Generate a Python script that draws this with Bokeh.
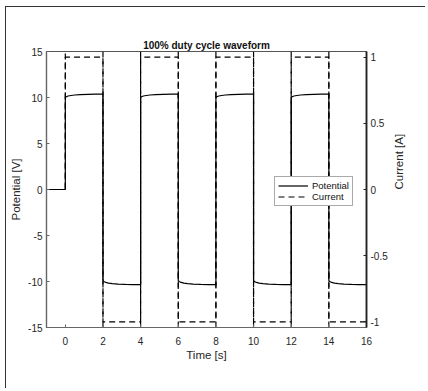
import math
from bokeh.plotting import figure
from bokeh.models import Range1d, LinearAxis, FixedTicker, Legend, LegendItem
from bokeh.embed import file_html
from bokeh.resources import INLINE

# ---- data ----
pot_time = [-1, 0,
            0, 0.05, 0.15, 0.3, 0.5, 0.8, 1.2, 1.6, 2.0,
            2.0, 2.05, 2.15, 2.3, 2.5, 2.8, 3.2, 3.6, 4.0,
            4.0, 4.05, 4.15, 4.3, 4.5, 4.8, 5.2, 5.6, 6.0,
            6.0, 6.05, 6.15, 6.3, 6.5, 6.8, 7.2, 7.6, 8.0,
            8.0, 8.05, 8.15, 8.3, 8.5, 8.8, 9.2, 9.6, 10.0,
            10.0, 10.05, 10.15, 10.3, 10.5, 10.8, 11.2, 11.6, 12.0,
            12.0, 12.05, 12.15, 12.3, 12.5, 12.8, 13.2, 13.6, 14.0,
            14.0, 14.05, 14.15, 14.3, 14.5, 14.8, 15.2, 15.6, 16.0]
pot_value = [0, 0,
             10.0, 10.08, 10.16, 10.22, 10.27, 10.31, 10.34, 10.36, 10.38,
             -9.9, -10.0, -10.1, -10.17, -10.23, -10.28, -10.31, -10.33, -10.35,
             10.0, 10.08, 10.16, 10.22, 10.27, 10.31, 10.34, 10.36, 10.38,
             -9.9, -10.0, -10.1, -10.17, -10.23, -10.28, -10.31, -10.33, -10.35,
             10.0, 10.08, 10.16, 10.22, 10.27, 10.31, 10.34, 10.36, 10.38,
             -9.9, -10.0, -10.1, -10.17, -10.23, -10.28, -10.31, -10.33, -10.35,
             10.0, 10.08, 10.16, 10.22, 10.27, 10.31, 10.34, 10.36, 10.38,
             -9.9, -10.0, -10.1, -10.17, -10.23, -10.28, -10.31, -10.33, -10.35]

cur_time = [-1, 0, 0, 2, 2, 4, 4, 6, 6, 8, 8, 10, 10, 12, 12, 14, 14, 16]
cur_value = [0, 0, 1, 1, -1, -1, 1, 1, -1, -1, 1, 1, -1, -1, 1, 1, -1, -1]
switch_times = [0, 2, 4, 6, 8, 10, 12, 14]
switch_low = [0, -15, -15, -15, -15, -15, -15, -15]
switch_high = [15, 15, 15, 15, 15, 15, 15, 15]

x_lim = (-1, 16)
left_lim = (-15, 15)
right_lim = (-1.042, 1.042)
x_ticks = [0, 2, 4, 6, 8, 10, 12, 14, 16]
left_ticks = [-15, -10, -5, 0, 5, 10, 15]
right_ticks = [-1, -0.5, 0, 0.5, 1]
left_tick_labels = ["-15", "-10", "-5", "0", "5", "10", "15"]
right_tick_labels = ["-1", "-0.5", "0", "0.5", "1"]

FONT = "Liberation Sans"
TXT = "#262626"

p = figure(width=420, height=382, output_backend="svg", toolbar_location=None,
           x_range=Range1d(*x_lim), y_range=Range1d(*left_lim),
           min_border_left=40, min_border_right=60, min_border_top=44, min_border_bottom=62,
           title="100% duty cycle waveform")
p.styles = {"margin-left": "5px", "margin-top": "6px",
            "border-left": "1.5px solid #333", "border-top": "1.5px solid #333"}
p.grid.visible = False
p.outline_line_color = "#555555"
p.outline_line_width = 1.2

p.title.text_font = FONT
p.title.text_font_size = "10px"
p.title.text_font_style = "bold"
p.title.text_color = "#111111"
p.title.align = "center"
p.title.standoff = 2

p.extra_y_ranges = {"cur": Range1d(*right_lim)}

# potential
r_pot = p.line(pot_time, pot_value, line_color="black", line_width=1.2)
# current
r_cur = p.line(cur_time, cur_value, y_range_name="cur", line_color="black",
               line_width=1.2, line_dash="6 4")
p.segment(x0=switch_times, x1=switch_times, y0=switch_low, y1=switch_high,
          line_color="black", line_width=1.2, line_dash="6 4")

# axes styling
for ax in (p.xaxis[0], p.yaxis[0]):
    ax.major_tick_in = 3
    ax.major_tick_out = 0
    ax.minor_tick_in = 0
    ax.minor_tick_out = 0
    ax.axis_line_color = "#666666"
    ax.axis_line_width = 1.2
    ax.major_tick_line_color = "#666666"
    ax.major_label_text_font = FONT
    ax.major_label_text_font_size = "10px"
    ax.major_label_text_color = TXT
    ax.axis_label_text_font = FONT
    ax.axis_label_text_font_size = "11.5px"
    ax.axis_label_text_font_style = "normal"
    ax.axis_label_text_color = TXT

p.xaxis[0].ticker = FixedTicker(ticks=x_ticks)
p.xaxis[0].axis_label = "Time [s]"
p.xaxis[0].major_label_standoff = 9
p.xaxis[0].axis_label_standoff = 1
p.yaxis[0].ticker = FixedTicker(ticks=left_ticks)
p.yaxis[0].major_label_overrides = dict(zip(left_ticks, left_tick_labels))
p.yaxis[0].axis_label = "Potential [V]"
p.yaxis[0].major_label_standoff = 4
p.yaxis[0].axis_label_standoff = 3

rax = LinearAxis(y_range_name="cur", ticker=FixedTicker(ticks=right_ticks),
                 axis_label="Current [A]")
rax.major_label_overrides = dict(zip(right_ticks, right_tick_labels))
rax.major_tick_in = 3
rax.major_tick_out = 0
rax.minor_tick_in = 0
rax.minor_tick_out = 0
rax.axis_line_color = "#222222"
rax.axis_line_width = 1.8
rax.major_tick_line_color = "#222222"
rax.major_label_text_font = FONT
rax.major_label_text_font_size = "10px"
rax.major_label_text_color = TXT
rax.major_label_standoff = 4
rax.axis_label_text_font = FONT
rax.axis_label_text_font_size = "11.5px"
rax.axis_label_text_font_style = "normal"
rax.axis_label_text_color = TXT
rax.axis_label_standoff = 8
rax.axis_label_orientation = math.pi / 2
p.add_layout(rax, "right")

legend = Legend(items=[LegendItem(label="Potential", renderers=[r_pot]),
                       LegendItem(label="Current", renderers=[r_cur])],
                location=(228, 121))
legend.label_text_font = FONT
legend.label_text_font_size = "9.5px"
legend.label_text_color = "#111111"
legend.label_height = 9
legend.label_standoff = 4
legend.glyph_width = 30
legend.glyph_height = 9
legend.spacing = 0
legend.padding = 3
legend.margin = 0
legend.border_line_color = "#555555"
legend.border_line_width = 1
legend.background_fill_color = "white"
legend.background_fill_alpha = 1
p.add_layout(legend, "center")

open("out.html", "w").write(file_html(p, INLINE))
